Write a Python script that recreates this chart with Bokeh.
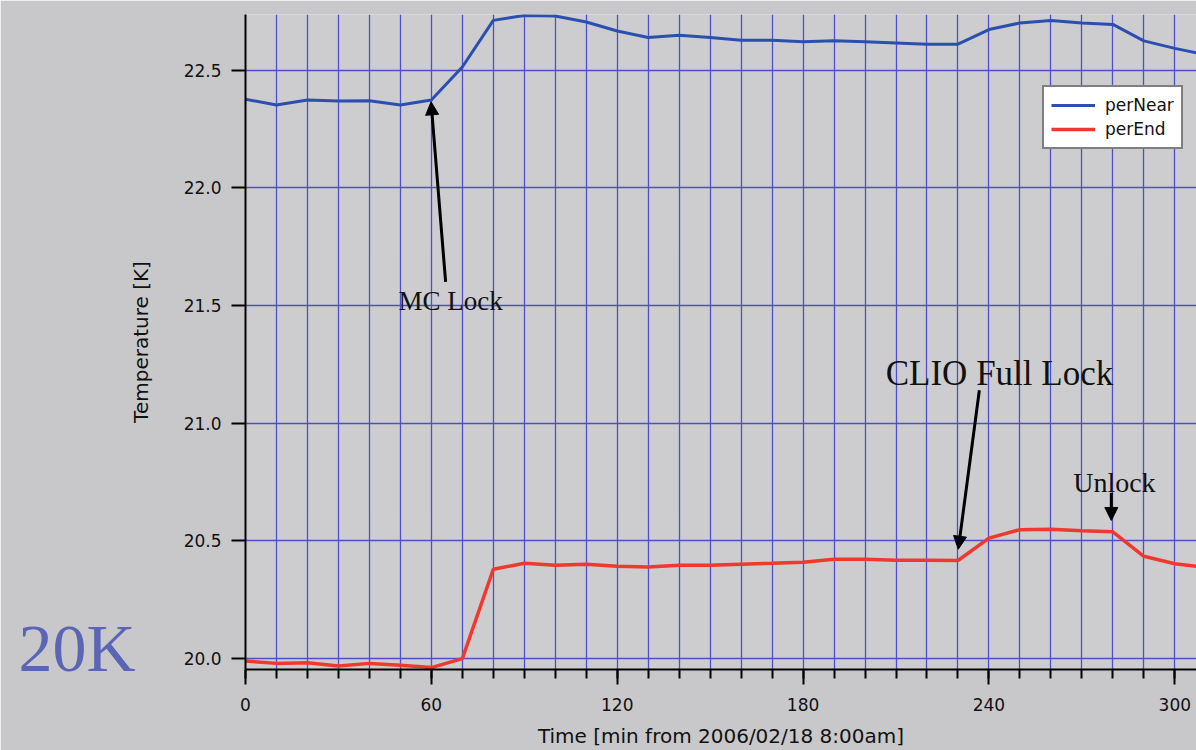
from bokeh.plotting import figure
from bokeh.models import (Range1d, FixedTicker, PrintfTickFormatter, Label, Arrow,
                          NormalHead, Legend, LegendItem, LinearAxis)
from bokeh.embed import file_html
from bokeh.resources import INLINE

# ---- data ----
time_min = [0, 10, 20, 30, 40, 50, 60, 70, 80, 90, 100, 110, 120, 130, 140, 150,
            160, 170, 180, 190, 200, 210, 220, 230, 240, 250, 260, 270, 280, 290, 300, 310]
per_near = [22.376, 22.352, 22.373, 22.369, 22.370, 22.352, 22.373, 22.513, 22.711, 22.732,
            22.730, 22.704, 22.666, 22.638, 22.648, 22.638, 22.627, 22.627, 22.620, 22.624,
            22.620, 22.615, 22.610, 22.610, 22.672, 22.700, 22.711, 22.700, 22.694, 22.624,
            22.592, 22.565]
per_end = [19.990, 19.980, 19.983, 19.969, 19.980, 19.972, 19.962, 20.000, 20.380, 20.405,
           20.397, 20.401, 20.393, 20.389, 20.397, 20.397, 20.401, 20.405, 20.410, 20.422,
           20.422, 20.418, 20.418, 20.417, 20.512, 20.548, 20.550, 20.543, 20.539, 20.435,
           20.403, 20.388]
series_names = ["perNear", "perEnd"]
x_major_ticks = [0, 60, 120, 180, 240, 300]
x_minor_ticks = [0, 10, 20, 30, 40, 50, 60, 70, 80, 90, 100, 110, 120, 130, 140, 150,
                 160, 170, 180, 190, 200, 210, 220, 230, 240, 250, 260, 270, 280, 290, 300]
y_ticks = [20.0, 20.5, 21.0, 21.5, 22.0, 22.5]
stage_label = "20K"

BG = "#c8c8ca"
FRAME_BG = "#cdcdcf"
GRID = "#4f4fcc"
TICK_FONT = "DejaVu Sans"
SERIF = "Liberation Serif"

p = figure(width=1196, height=750, output_backend="svg", toolbar_location=None,
           x_range=Range1d(0, 307), y_range=Range1d(19.954, 22.736),
           min_border_left=245, min_border_right=0, min_border_top=14, min_border_bottom=77)
p.background_fill_color = FRAME_BG
p.border_fill_color = BG
p.outline_line_color = None

# axes
p.xaxis.ticker = FixedTicker(ticks=x_major_ticks, minor_ticks=x_minor_ticks)
p.yaxis.ticker = FixedTicker(ticks=y_ticks, minor_ticks=[])
p.yaxis.formatter = PrintfTickFormatter(format="%.1f")
for ax in (p.xaxis[0], p.yaxis[0]):
    ax.axis_line_color = "black"
    ax.axis_line_width = 2
    ax.major_tick_line_color = "black"
    ax.major_tick_line_width = 2
    ax.minor_tick_line_color = "black"
    ax.minor_tick_line_width = 2
    ax.major_tick_in = 0
    ax.minor_tick_in = 0
    ax.major_label_text_font = TICK_FONT
    ax.major_label_text_font_size = "17px"
    ax.major_label_text_color = "#111111"
    ax.axis_label_text_font = TICK_FONT
    ax.axis_label_text_font_size = "20px"
    ax.axis_label_text_font_style = "normal"
    ax.axis_label_text_color = "#111111"
p.xaxis.major_tick_out = 15
p.xaxis.minor_tick_out = 9
p.xaxis.major_label_standoff = 13
p.xaxis.axis_label = "Time [min from 2006/02/18 8:00am]"
p.xaxis.axis_label_standoff = 10
p.yaxis.major_tick_out = 14
p.yaxis.minor_tick_out = 0
p.yaxis.major_label_standoff = 10
p.yaxis.axis_label = "Temperature [K]"
p.yaxis.axis_label_standoff = 28

# outer left axis used only to carry the big "20K" stage caption
stage_tick = 20.046
stage_axis = LinearAxis(ticker=FixedTicker(ticks=[stage_tick], minor_ticks=[]),
                        major_label_overrides={stage_tick: stage_label},
                        axis_line_color=None, major_tick_line_color=None,
                        minor_tick_line_color=None, major_tick_out=0, major_tick_in=0,
                        major_label_standoff=-10, major_label_text_font=SERIF,
                        major_label_text_font_size="68px", major_label_text_color="#5a66b5")
p.add_layout(stage_axis, "left")

# grid
p.xgrid.ticker = FixedTicker(ticks=x_minor_ticks[1:])
p.ygrid.ticker = FixedTicker(ticks=y_ticks)
for g in (p.xgrid[0], p.ygrid[0]):
    g.grid_line_color = GRID
    g.grid_line_width = 1.3
    g.grid_line_alpha = 1.0

# series
r_near = p.line(time_min, per_near, line_color="#2a4fb0", line_width=3)
r_end = p.line(time_min, per_end, line_color="#f0392e", line_width=3.5)

legend = Legend(items=[LegendItem(label=series_names[0], renderers=[r_near]),
                       LegendItem(label=series_names[1], renderers=[r_end])],
                location=(797, 520), margin=0, padding=7, spacing=2,
                glyph_width=44, glyph_height=22, label_height=22, label_standoff=10,
                label_text_font=TICK_FONT, label_text_font_size="17px",
                label_text_color="#111111",
                border_line_color="black", border_line_width=2,
                background_fill_color="white", background_fill_alpha=1)
p.add_layout(legend)

# annotations
def note(text, x, y, size):
    p.add_layout(Label(x=x, y=y, text=text, text_align="center", text_baseline="middle",
                       text_font=SERIF, text_font_size=size, text_color="#111111"))

def arrow(x0, y0, x1, y1):
    p.add_layout(Arrow(x_start=x0, y_start=y0, x_end=x1, y_end=y1, line_color="black",
                       line_width=3,
                       end=NormalHead(size=13, fill_color="black", line_color="black")))

note("MC Lock", 66.2, 21.52, "27px")
arrow(64.6, 21.60, 59.9, 22.365)
note("CLIO Full Lock", 243.4, 21.21, "35px")
arrow(236.9, 21.14, 230.1, 20.465)
note("Unlock", 280.5, 20.748, "28px")
arrow(279.5, 20.705, 279.5, 20.587)

open("out.html", "w").write(file_html(p, INLINE))
